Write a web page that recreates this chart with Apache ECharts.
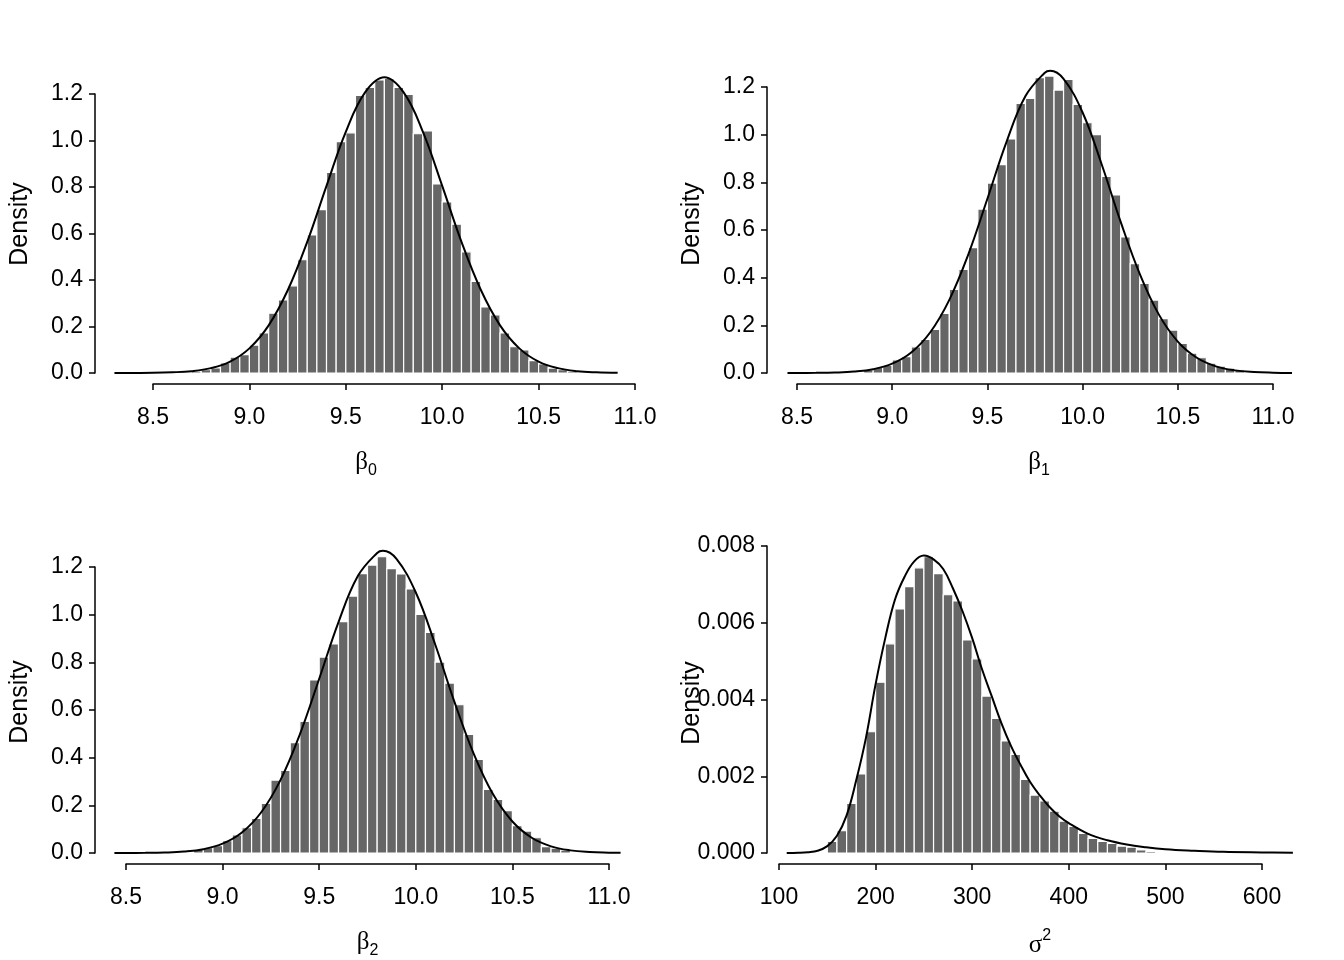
<!DOCTYPE html>
<html>
<head>
<meta charset="utf-8">
<script src="https://cdn.jsdelivr.net/npm/echarts@6/dist/echarts.min.js"></script>
<style>
html,body{margin:0;padding:0;background:#ffffff;}
#chart{width:1344px;height:960px;}
</style>
</head>
<body>
<div id="chart"></div>
<script>
// ---------------- data ----------------
const betaBinWidth = 0.05;
const sigmaBinWidth = 10;

const beta0BinLeft = [8.70,8.75,8.80,8.85,8.90,8.95,9.00,9.05,9.10,9.15,9.20,9.25,9.30,9.35,9.40,9.45,9.50,9.55,9.60,9.65,9.70,9.75,9.80,9.85,9.90,9.95,10.00,10.05,10.10,10.15,10.20,10.25,10.30,10.35,10.40,10.45,10.50,10.55,10.60,10.65];
const beta0Density = [0.008,0.014,0.022,0.043,0.068,0.079,0.120,0.172,0.257,0.314,0.375,0.487,0.594,0.703,0.863,0.995,1.033,1.194,1.228,1.261,1.267,1.228,1.198,1.029,1.041,0.813,0.736,0.640,0.521,0.394,0.284,0.250,0.172,0.113,0.099,0.053,0.039,0.021,0.014,0.008];

const beta1BinLeft = [8.85,8.90,8.95,9.00,9.05,9.10,9.15,9.20,9.25,9.30,9.35,9.40,9.45,9.50,9.55,9.60,9.65,9.70,9.75,9.80,9.85,9.90,9.95,10.00,10.05,10.10,10.15,10.20,10.25,10.30,10.35,10.40,10.45,10.50,10.55,10.60,10.65,10.70,10.75,10.80];
const beta1Density = [0.013,0.024,0.032,0.055,0.069,0.110,0.141,0.183,0.250,0.351,0.435,0.526,0.688,0.797,0.874,0.982,1.131,1.152,1.239,1.246,1.187,1.232,1.127,1.050,1.000,0.825,0.747,0.571,0.459,0.376,0.306,0.228,0.180,0.124,0.083,0.064,0.041,0.029,0.020,0.013];

const beta2BinLeft = [8.85,8.90,8.95,9.00,9.05,9.10,9.15,9.20,9.25,9.30,9.35,9.40,9.45,9.50,9.55,9.60,9.65,9.70,9.75,9.80,9.85,9.90,9.95,10.00,10.05,10.10,10.15,10.20,10.25,10.30,10.35,10.40,10.45,10.50,10.55,10.60,10.65,10.70,10.75];
const beta2Density = [0.015,0.022,0.031,0.052,0.076,0.106,0.145,0.208,0.306,0.347,0.463,0.552,0.726,0.822,0.877,0.971,1.078,1.172,1.208,1.243,1.193,1.171,1.108,1.001,0.926,0.801,0.713,0.622,0.498,0.393,0.267,0.225,0.178,0.115,0.092,0.064,0.027,0.020,0.012];

const sigma2BinLeft = [150,160,170,180,190,200,210,220,230,240,250,260,270,280,290,300,310,320,330,340,350,360,370,380,390,400,410,420,430,440,450,460,470,480,490];
const sigma2Density = [0.00030,0.00058,0.00129,0.00206,0.00316,0.00445,0.00545,0.00636,0.00694,0.00743,0.00772,0.00728,0.00673,0.00657,0.00555,0.00506,0.00409,0.00351,0.00292,0.00257,0.00192,0.00151,0.00136,0.00109,0.00083,0.00069,0.00051,0.00038,0.00030,0.00025,0.00018,0.00015,0.00008,0.00004,0.00002];

// density curves
const beta0CurveX = [8.30,8.50,8.60,8.70,8.80,8.90,9.00,9.10,9.20,9.30,9.40,9.50,9.60,9.70,9.80,9.90,10.00,10.10,10.20,10.30,10.40,10.50,10.60,10.70,10.80,10.91];
const beta0CurveY = [0.0001,0.0009,0.003,0.008,0.021,0.049,0.106,0.205,0.358,0.564,0.805,1.037,1.207,1.272,1.207,1.037,0.805,0.564,0.358,0.205,0.106,0.049,0.021,0.008,0.003,0.0008];

const beta1CurveX = [8.45,8.60,8.70,8.80,8.90,9.00,9.10,9.20,9.30,9.40,9.50,9.60,9.70,9.80,9.83,9.90,10.00,10.10,10.20,10.30,10.40,10.50,10.60,10.70,10.80,10.90,11.00,11.10];
const beta1CurveY = [0.0001,0.0006,0.002,0.006,0.016,0.039,0.086,0.171,0.307,0.498,0.731,0.969,1.162,1.259,1.268,1.234,1.093,0.876,0.634,0.416,0.246,0.132,0.064,0.028,0.011,0.004,0.0013,0.0004];

const beta2CurveX = [8.44,8.60,8.70,8.80,8.90,9.00,9.10,9.20,9.30,9.40,9.50,9.60,9.70,9.80,9.83,9.90,10.00,10.10,10.20,10.30,10.40,10.50,10.60,10.70,10.80,10.90,11.00,11.06];
const beta2CurveY = [0.0001,0.0006,0.002,0.006,0.016,0.039,0.086,0.171,0.307,0.498,0.731,0.969,1.162,1.259,1.268,1.234,1.093,0.876,0.634,0.416,0.246,0.132,0.064,0.028,0.011,0.004,0.0013,0.0006];

const sigma2CurveX = [108,120,130,140,150,160,170,180,190,200,210,220,230,240,250,260,270,280,290,300,310,320,330,340,350,360,370,380,390,400,420,440,460,480,500,530,560,600,632];
const sigma2CurveY = [0,0.000005,0.00002,0.00006,0.00018,0.00045,0.00098,0.0019,0.0030,0.0044,0.0056,0.0066,0.0072,0.0076,0.00775,0.00765,0.0074,0.0069,0.0063,0.0056,0.0048,0.0041,0.0034,0.0028,0.0023,0.00185,0.0015,0.0012,0.00096,0.00078,0.0005,0.00033,0.00022,0.00015,0.0001,0.00006,0.00003,0.000015,0.000008];

// axis ranges / ticks
const betaXRange = [8.5, 11.0, 0.5];
const sigmaXRange = [100, 600, 100];
const betaYRange = [0, 1.2, 0.2];
const sigmaYRange = [0, 0.008, 0.002];

const yTitle = 'Density';
const xTitles = ['{g|β}{s|0}', '{g|β}{s|1}', '{g|β}{s|2}', '{g|σ}{p|2}'];

// ---------------- chart ----------------
const SANS = '"Liberation Sans", Arial, Helvetica, sans-serif';
const SERIF = '"Liberation Serif", "Times New Roman", serif';

const grids = [
  {left:153, top:94,  width:482, height:279},
  {left:797, top:87,  width:476, height:286},
  {left:126, top:567, width:483, height:286},
  {left:779, top:546, width:483, height:307}
];
const xRanges = [betaXRange, betaXRange, betaXRange, sigmaXRange];
const yRanges = [betaYRange, betaYRange, betaYRange, sigmaYRange];
const curvesX = [beta0CurveX, beta1CurveX, beta2CurveX, sigma2CurveX];
const curvesY = [beta0CurveY, beta1CurveY, beta2CurveY, sigma2CurveY];

const yOffsets = [58, 30, 31, 12];
const yNamePad = [[0,0,0,19],[0,0,0,12],[0,0,0,16],[0,7,0,0]];
const xNamePad = [[0,56,0,0],[0,0,0,8],[0,0,0,0],[0,0,0,39]];
const xNameGap = [61, 61, 61, 64];

const axisLineStyle = {color:'#000000', width:1.5};

function makeX(i, range, fmt) {
  return {
    gridIndex:i, type:'value', position:'bottom',
    min:range[0], max:range[1], interval:range[2], offset:11,
    axisLine:{show:true, onZero:false, lineStyle:axisLineStyle},
    axisTick:{show:true, inside:false, length:6, lineStyle:axisLineStyle},
    axisLabel:{show:true, color:'#000', fontSize:23, fontFamily:SANS, margin:22, formatter:fmt},
    splitLine:{show:false},
    name:xTitles[i], nameLocation:'middle', nameGap:xNameGap[i], nameMoveOverlap:false,
    nameTextStyle:{
      color:'#000', padding:xNamePad[i],
      rich:{
        g:{fontFamily:SERIF, fontSize:25, lineHeight:34, color:'#000'},
        s:{fontFamily:SANS, fontSize:16, lineHeight:16, verticalAlign:'bottom', color:'#000'},
        p:{fontFamily:SANS, fontSize:16, lineHeight:16, verticalAlign:'top', color:'#000'}
      }
    }
  };
}
function makeY(i, range, fmt) {
  return {
    gridIndex:i, type:'value', position:'left',
    min:range[0], max:range[1], interval:range[2], offset:yOffsets[i],
    axisLine:{show:true, onZero:false, lineStyle:axisLineStyle},
    axisTick:{show:true, inside:false, length:6, lineStyle:axisLineStyle},
    axisLabel:{show:true, color:'#000', fontSize:23, fontFamily:SANS, margin:12, formatter:fmt},
    splitLine:{show:false},
    name:yTitle, nameLocation:'middle', nameGap:62, nameRotate:90, nameMoveOverlap:false,
    nameTextStyle:{color:'#000', fontSize:25, fontFamily:SANS, padding:yNamePad[i]}
  };
}

// hidden grid on the same scale, widened to the curve's drawn x extent
function curveGrid(i) {
  const g = grids[i], r = xRanges[i], xs = curvesX[i];
  const pxPerUnit = g.width / (r[1] - r[0]);
  const x0 = xs[0], x1 = xs[xs.length - 1];
  return {left: g.left + (x0 - r[0]) * pxPerUnit, top: g.top, width: (x1 - x0) * pxPerUnit, height: g.height};
}

function histSeries(i, lefts, heights, w) {
  return {
    type:'custom', xAxisIndex:i, yAxisIndex:i, clip:false, silent:true,
    data: lefts.map((l, k) => [l, l + w, heights[k]]),
    encode:{x:[0,1], y:2},
    renderItem:function(params, api){
      const p0 = api.coord([api.value(0), api.value(2)]);
      const p1 = api.coord([api.value(1), 0]);
      return {
        type:'rect',
        shape:{x:p0[0], y:p0[1], width:p1[0]-p0[0], height:p1[1]-p0[1]},
        style:{fill:'#666666', stroke:'#ffffff', lineWidth:1.2}
      };
    }
  };
}
function curveSeries(i) {
  const xs = curvesX[i], ys = curvesY[i];
  return {
    type:'line', xAxisIndex:i + 4, yAxisIndex:i + 4, clip:false, silent:true,
    data: xs.map((x, k) => [x, ys[k]]),
    showSymbol:false, symbol:'none', smooth:0.4,
    lineStyle:{color:'#000000', width:2},
    z:5
  };
}

const f1 = v => v.toFixed(1);
const f3 = v => v.toFixed(3);
const f0 = v => String(Math.round(v));

const gridList = grids.map(g => Object.assign({containLabel:false, outerBoundsMode:'none'}, g));
for (let i = 0; i < 4; i++) gridList.push(Object.assign({containLabel:false, outerBoundsMode:'none'}, curveGrid(i)));

const xAxes = [
  makeX(0, betaXRange, f1),
  makeX(1, betaXRange, f1),
  makeX(2, betaXRange, f1),
  makeX(3, sigmaXRange, f0)
];
const yAxes = [
  makeY(0, betaYRange, f1),
  makeY(1, betaYRange, f1),
  makeY(2, betaYRange, f1),
  makeY(3, sigmaYRange, f3)
];
for (let i = 0; i < 4; i++) {
  const xs = curvesX[i];
  xAxes.push({gridIndex:i + 4, type:'value', show:false, min:xs[0], max:xs[xs.length - 1]});
  yAxes.push({gridIndex:i + 4, type:'value', show:false, min:yRanges[i][0], max:yRanges[i][1]});
}

const option = {
  backgroundColor:'#ffffff',
  animation:false,
  grid: gridList,
  xAxis: xAxes,
  yAxis: yAxes,
  series:[
    histSeries(0, beta0BinLeft, beta0Density, betaBinWidth),
    histSeries(1, beta1BinLeft, beta1Density, betaBinWidth),
    histSeries(2, beta2BinLeft, beta2Density, betaBinWidth),
    histSeries(3, sigma2BinLeft, sigma2Density, sigmaBinWidth),
    curveSeries(0),
    curveSeries(1),
    curveSeries(2),
    curveSeries(3)
  ]
};

const chart = echarts.init(document.getElementById('chart'), null, {renderer:'canvas', width:1344, height:960});
chart.setOption(option);
</script>
</body>
</html>
